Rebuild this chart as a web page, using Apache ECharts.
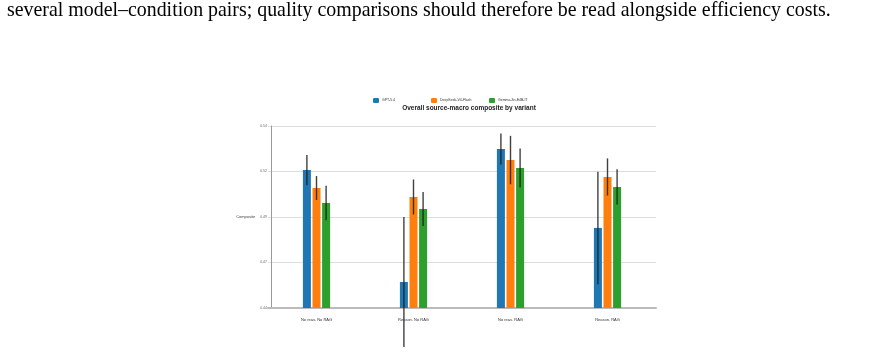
<!DOCTYPE html>
<html>
<head>
<meta charset="utf-8">
<script src="https://cdn.jsdelivr.net/npm/echarts@6/dist/echarts.min.js"></script>
<style>
  html, body { margin: 0; padding: 0; background: #fff; }
  #wrap { position: relative; width: 884px; height: 353px; overflow: hidden; }
  #chart { position: absolute; left: 0; top: 0; width: 884px; height: 353px; }
  #caption {
    position: absolute; left: 7px; top: -3px; white-space: nowrap; line-height: 24px;
    font-family: "Liberation Serif", "Times New Roman", serif; font-size: 19.9px; color: #000;
  }
</style>
</head>
<body>
<div id="wrap">
  <div id="chart"></div>
  <div id="caption">several model–condition pairs; quality comparisons should therefore be read alongside efficiency costs.</div>
</div>
<script>
var categories = ['No reas. No RAG', 'Reason. No RAG', 'No reas. RAG', 'Reason. RAG'];
var models = ['GPT-5.4', 'DeepSeek-V4-Flash', 'Gemma-3n-E4B-IT'];
var colors = ['#1f77b4', '#ff7f0e', '#2ca02c'];

var gptMean = [0.5208, 0.4593, 0.5324, 0.4890];
var gptErr = [0.0083, 0.0357, 0.0085, 0.0309];
var deepseekMean = [0.5109, 0.5060, 0.5263, 0.5170];
var deepseekErr = [0.0066, 0.0096, 0.0133, 0.0102];
var gemmaMean = [0.5027, 0.4994, 0.5219, 0.5115];
var gemmaErr = [0.0095, 0.0093, 0.0107, 0.0097];

var tickLabels = ['0.44', '0.47', '0.49', '0.52', '0.54'];

var means = [gptMean, deepseekMean, gemmaMean];
var errs = [gptErr, deepseekErr, gemmaErr];
var barOffsets = [-9.6, 0, 9.6]; // bar width 8 + 20% gap

var myChart = echarts.init(document.getElementById('chart'));

var series = [];
models.forEach(function (m, i) {
  series.push({
    name: m,
    type: 'bar',
    barWidth: 8,
    barGap: '20%',
    itemStyle: { color: colors[i] },
    data: means[i]
  });
});
models.forEach(function (m, i) {
  series.push({
    type: 'custom',
    clip: false,
    silent: true,
    z: 10,
    data: means[i].map(function (v, k) { return [k, v - errs[i][k], v + errs[i][k]]; }),
    renderItem: function (params, api) {
      var lo = api.coord([api.value(0), api.value(1)]);
      var hi = api.coord([api.value(0), api.value(2)]);
      var x = lo[0] + barOffsets[i];
      return {
        type: 'line',
        shape: { x1: x, y1: lo[1], x2: x, y2: hi[1] },
        style: { stroke: 'rgba(30,30,30,0.85)', lineWidth: 1.4 }
      };
    }
  });
});

var legends = models.map(function (m, i) {
  return {
    data: [m],
    left: [368, 426, 484][i],
    top: 93,
    itemWidth: 6,
    itemHeight: 5,
    itemGap: 0,
    textStyle: { fontSize: 3.5, color: '#333', padding: [0, 0, 0, -2] }
  };
});

var option = {
  animation: false,
  title: {
    text: 'Overall source-macro composite by variant',
    left: 464,
    textAlign: 'center',
    top: 100,
    textStyle: { fontSize: 6.5, fontWeight: 'bold', color: '#222', fontFamily: 'Liberation Sans' }
  },
  legend: legends,
  grid: { left: 268, right: 228, top: 126, bottom: 45 },
  xAxis: {
    type: 'category',
    data: categories,
    axisTick: { show: false },
    axisLine: { lineStyle: { color: '#bbb', width: 2 } },
    axisLabel: { fontSize: 4, color: '#333', margin: 10 }
  },
  yAxis: {
    type: 'value',
    min: 0.445,
    max: 0.545,
    interval: 0.025,
    offset: -3,
    name: 'Composite',
    nameLocation: 'middle',
    nameRotate: 0,
    nameGap: 13,
    nameTextStyle: { fontSize: 4, color: '#444', align: 'right' },
    axisLine: { show: true, lineStyle: { color: '#999', width: 1 } },
    axisTick: { show: false },
    splitLine: { lineStyle: { color: '#ddd', width: 1 } },
    axisLabel: {
      fontSize: 3.5, color: '#666', margin: 4,
      formatter: function (v) {
        var idx = Math.round((v - 0.445) / 0.025);
        return tickLabels[idx];
      }
    }
  },
  series: series
};
myChart.setOption(option);
</script>
</body>
</html>
